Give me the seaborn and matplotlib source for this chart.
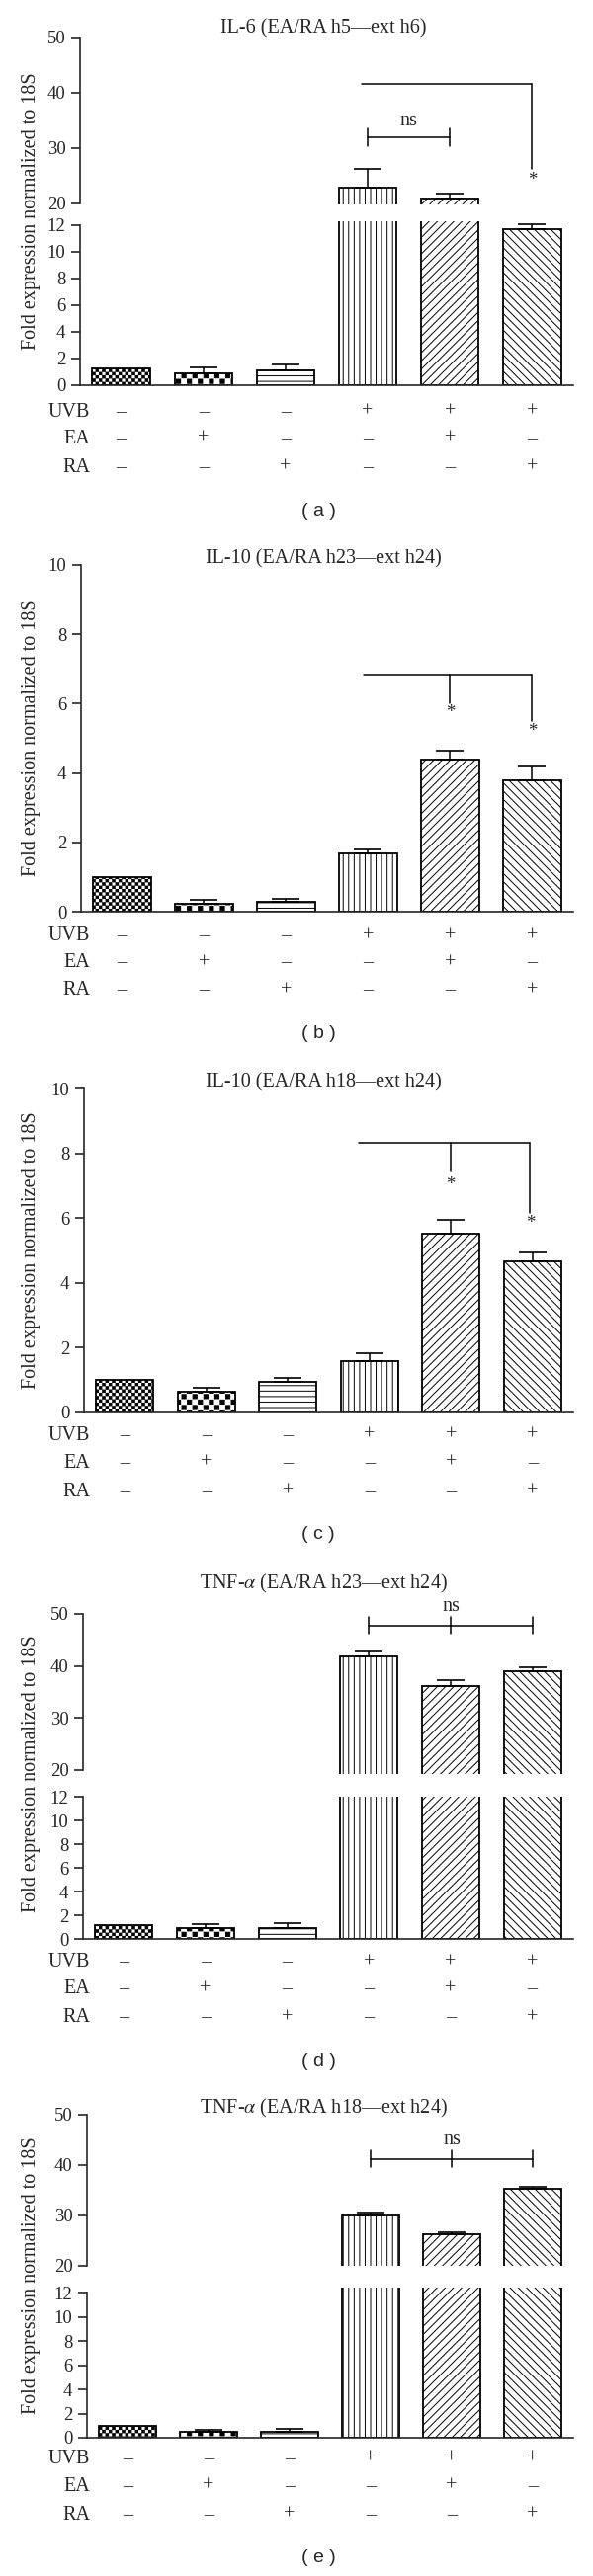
import matplotlib
matplotlib.use("Agg")
import matplotlib.pyplot as plt
import matplotlib.hatch as mhatch
from matplotlib.path import Path
import seaborn as sns

# treatment groups and the +/- table under each panel
groups = ["Control", "EA", "RA", "UVB", "UVB+EA", "UVB+RA"]
uvb_signs = ["–", "–", "–", "+", "+", "+"]
ea_signs = ["–", "+", "–", "–", "+", "–"]
ra_signs = ["–", "–", "+", "–", "–", "+"]
row_names = ["UVB", "EA", "RA"]

titles = [
    "IL-6 (EA/RA h5—ext h6)",
    "IL-10 (EA/RA h23—ext h24)",
    "IL-10 (EA/RA h18—ext h24)",
    "TNF-$\\alpha$ (EA/RA h23—ext h24)",
    "TNF-$\\alpha$ (EA/RA h18—ext h24)",
]
panel_tags = ["( a )", "( b )", "( c )", "( d )", "( e )"]

# fold expression (mean) and upper error (SEM) per group
il6_h5_mean = [1.28, 0.89, 1.14, 22.85, 20.8, 11.7]
il6_h5_sem = [0, 0.44, 0.39, 3.35, 0.85, 0.38]
il10_h23_mean = [1.0, 0.23, 0.28, 1.70, 4.40, 3.78]
il10_h23_sem = [0, 0.11, 0.11, 0.10, 0.25, 0.40]
il10_h18_mean = [1.0, 0.65, 0.95, 1.60, 5.52, 4.68]
il10_h18_sem = [0, 0.12, 0.11, 0.23, 0.43, 0.25]
tnf_h23_mean = [1.2, 0.95, 0.95, 41.8, 36.2, 38.9]
tnf_h23_sem = [0, 0.35, 0.40, 1.0, 1.0, 0.9]
tnf_h18_mean = [0.95, 0.49, 0.50, 30.0, 26.2, 35.2]
tnf_h18_sem = [0, 0.16, 0.21, 0.5, 0.4, 0.4]

# significance brackets: (x start, x end, y, [(drop x, drop y)], [(star x, star y)])
il6_sig = (2.93, 5, 41.5, [(5, 26.2)], [(5, 24.1)])
il10_h23_sig = (2.95, 5, 6.84, [(4, 6.0), (5, 5.5)], [(4, 5.75), (5, 5.2)])
il10_h18_sig = (2.87, 4.97, 8.33, [(4, 7.46), (4.97, 6.15)], [(4, 7.02), (4.97, 5.83)])
# ns brackets: (tick xs, y, tick half height, text y)
il6_ns = ([3, 4], 31.9, 1.6, 34.8)
tnf_h23_ns = ([3, 4, 5], 47.8, 1.6, 51.5)
tnf_h18_ns = ([3, 4, 5], 41.2, 1.7, 45.0)

hatches = ["*****", "***", "---", "|||", "////", "\\\\\\\\"]


class CheckerHatch(mhatch.HatchPatternBase):
    # checkerboard fill, used in place of the star hatch
    def __init__(self, hatch, density):
        self.n = int(hatch.count("*") * density)
        self.cells = [(i, j) for i in range(self.n) for j in range(self.n) if (i + j) % 2 == 0]
        self.num_vertices = len(self.cells) * 5

    def set_vertices_and_codes(self, vertices, codes):
        step = 1.0 / self.n
        inset = step * 0.12
        for k, (i, j) in enumerate(self.cells):
            x0, y0 = i * step + inset, j * step + inset
            x1, y1 = (i + 1) * step - inset, (j + 1) * step - inset
            vertices[5 * k:5 * k + 5] = [(x0, y0), (x1, y0), (x1, y1), (x0, y1), (x0, y0)]
            codes[5 * k:5 * k + 5] = [Path.MOVETO, Path.LINETO, Path.LINETO, Path.LINETO, Path.CLOSEPOLY]


mhatch._hatch_types = [CheckerHatch if t is mhatch.Stars else t for t in mhatch._hatch_types]

sns.set_style("ticks")
plt.rcParams["font.family"] = ["Liberation Serif", "DejaVu Serif"]
plt.rcParams["mathtext.fontset"] = "stix"
plt.rcParams["hatch.linewidth"] = 0.7
plt.rcParams["axes.linewidth"] = 1.2

W, H = 600, 2608
RIGHT = 580
FS = 13.5
FS_BIG = 14.5
fig = plt.figure(figsize=(W / 100, H / 100), dpi=100)


def add_axes(left, top, bottom):
    return fig.add_axes([left / W, 1 - bottom / H, (RIGHT - left) / W, (bottom - top) / H])


def draw_bars(ax, means, sems):
    sns.barplot(x=groups, y=means, ax=ax, color="white", edgecolor="black",
                linewidth=1.3, width=0.7, errorbar=None, saturation=1)
    for patch, h in zip(ax.patches, hatches):
        patch.set_hatch(h)
    idx = [i for i, s in enumerate(sems) if s > 0]
    ax.errorbar(idx, [means[i] for i in idx],
                yerr=[[0] * len(idx), [sems[i] for i in idx]],
                fmt="none", ecolor="black", elinewidth=1.1, capsize=10,
                capthick=1.2, zorder=3)
    ax.set_xlim(-0.5, 5.5)
    ax.set_xlabel("")
    ax.set_ylabel("")
    ax.tick_params(axis="x", bottom=False, labelbottom=False)
    ax.tick_params(axis="y", direction="out", length=6.5, width=1.2, pad=4, labelsize=FS)
    sns.despine(ax=ax)


def sig_bracket(ax, spec):
    x0, x1, y, drops, stars = spec
    ax.plot([x0, x1], [y, y], color="black", lw=1.1, clip_on=False)
    for dx, dy in drops:
        ax.plot([dx, dx], [y, dy], color="black", lw=1.1, clip_on=False)
    for sx, sy in stars:
        ax.text(sx, sy, "*", ha="center", va="center", fontsize=FS)


def ns_bracket(ax, spec):
    xs, y, half, ty = spec
    ax.plot([xs[0], xs[-1]], [y, y], color="black", lw=1.1, clip_on=False)
    for x in xs:
        ax.plot([x, x], [y - half, y + half], color="black", lw=1.1, clip_on=False)
    ax.text((xs[0] + xs[-1]) / 2, ty, "ns", ha="center", va="center", fontsize=FS_BIG)


def table_rows(ax, left, bottom, offsets):
    for name, signs, off in zip(row_names, [uvb_signs, ea_signs, ra_signs], offsets):
        fig.text(91 / W, 1 - (bottom + off + 6) / H, name, ha="right", va="baseline", fontsize=FS_BIG)
        for i, s in enumerate(signs):
            ax.annotate(s, xy=(i, 0), xycoords=("data", "axes fraction"),
                        xytext=(0, -(off + 6) * 0.72), textcoords="offset points",
                        ha="center", va="baseline", fontsize=FS_BIG)


def broken_panel(left, up, low, means, sems):
    ax_up = add_axes(left, up[0], up[1])
    ax_low = add_axes(left, low[0], low[1])
    draw_bars(ax_up, means, sems)
    draw_bars(ax_low, means, sems)
    ax_up.set_ylim(up[2], 50)
    ax_up.set_yticks([20, 30, 40, 50])
    ax_up.spines["bottom"].set_visible(False)
    ax_up.spines["left"].set_bounds(20, 50)
    ax_low.set_ylim(0, low[2])
    ax_low.set_yticks([0, 2, 4, 6, 8, 10, 12])
    ax_low.spines["left"].set_bounds(0, 12)
    return ax_up, ax_low


def single_panel(left, top, bottom, means, sems):
    ax = add_axes(left, top, bottom)
    draw_bars(ax, means, sems)
    ax.set_ylim(0, 10)
    ax.set_yticks([0, 2, 4, 6, 8, 10])
    return ax


def labels(k, title_y, tag_y, ylab_y):
    fig.text(327 / W, 1 - (title_y + 5) / H, titles[k], ha="center", va="baseline", fontsize=FS_BIG)
    fig.text(322 / W, 1 - tag_y / H, panel_tags[k], ha="center", va="center",
             fontsize=14, family="Liberation Sans")
    fig.text(32 / W, 1 - ylab_y / H, "Fold expression normalized to 18S", rotation=90,
             ha="center", va="center", fontsize=FS_BIG)


# (a) IL-6
up, low = broken_panel(81, (37.7, 207.4, 19.7), (224.3, 390, 12.25), il6_h5_mean, il6_h5_sem)
sig_bracket(up, il6_sig)
ns_bracket(up, il6_ns)
table_rows(low, 81, 390, [26, 53, 82])
labels(0, 28, 518, 214)

# (b) IL-10 h23
ax = single_panel(82, 571.7, 923.3, il10_h23_mean, il10_h23_sem)
sig_bracket(ax, il10_h23_sig)
table_rows(ax, 82, 923.3, [23, 50, 78])
labels(1, 565, 1047, 747)

# (c) IL-10 h18
ax = single_panel(85, 1102.3, 1430, il10_h18_mean, il10_h18_sem)
sig_bracket(ax, il10_h18_sig)
table_rows(ax, 85, 1430, [22, 50, 79])
labels(2, 1095, 1554, 1266)

# (d) TNF-a h23
up, low = broken_panel(84, (1634, 1795.9, 19.2), (1819, 1963.3, 12.0), tnf_h23_mean, tnf_h23_sem)
ns_bracket(up, tnf_h23_ns)
table_rows(low, 84, 1963.3, [22, 49, 78])
labels(3, 1603, 2087, 1796)

# (e) TNF-a h18
up, low = broken_panel(88, (2140.7, 2294.2, 19.9), (2315.8, 2468, 12.45), tnf_h18_mean, tnf_h18_sem)
ns_bracket(up, tnf_h18_ns)
table_rows(low, 88, 2468, [20, 48, 77])
labels(4, 2134, 2590, 2304)

fig.savefig("out.png", dpi=100, facecolor="white")
